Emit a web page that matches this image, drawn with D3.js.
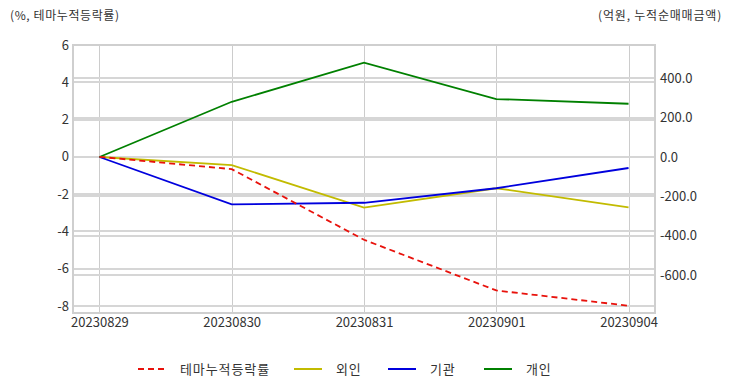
<!DOCTYPE html>
<html><head><meta charset="utf-8">
<script src="https://cdn.jsdelivr.net/npm/d3@7"></script>
<style>
body{margin:0;background:#fff;}
text{font-family:"Noto Sans CJK KR","Noto Sans",sans-serif;}
</style></head>
<body><svg id="c" width="732" height="392"></svg>
<script>
const dates = ["20230829","20230830","20230831","20230901","20230904"];
const themeRate = [0, -0.66, -4.45, -7.17, -7.99];
const foreign = [0, -41, -258, -159, -256];
const inst = [0, -241, -233, -159, -56];
const indiv = [0, 281, 480, 295, 271];
const leftTicks = [6,4,2,0,-2,-4,-6,-8];
const rightTicks = [400,200,0,-200,-400,-600];
const seriesNames = ["테마누적등락률","외인","기관","개인"];
const colors = ["#e8120c","#c2bb00","#0000dd","#008000"];

const svg = d3.select("#c");
const L=73, R=655, T=45, B=313;
const x = d3.scalePoint().domain(dates).range([L,R]).padding(0.2);
const yL = d3.scaleLinear().domain([-8.38,6]).range([B,T]);
const yR = d3.scaleLinear().domain([-794,570]).range([B,T]);

const grid = svg.append("g");
dates.forEach(d=>grid.append("rect").attr("x",Math.round(x(d))).attr("y",T).attr("width",1).attr("height",B-T).attr("fill","#cccccc"));
const hLines = leftTicks.map(v=>yL(v)).concat(rightTicks.map(v=>yR(v)));
grid.selectAll("rect.h").data(hLines).join("rect").attr("class","h")
  .attr("x",L).attr("y",d=>Math.round(d)-1).attr("width",R-L).attr("height",2).attr("fill","#d6d6d6");
svg.append("rect").attr("x",L).attr("y",T).attr("width",R-L).attr("height",B-T).attr("fill","none").attr("stroke","#cfcfcf").attr("stroke-width",2);

const axL = d3.axisLeft(yL).tickValues(leftTicks).tickSize(0).tickPadding(4).tickFormat(d3.format("d"));
const gL = svg.append("g").attr("transform",`translate(${L},0)`).call(axL);
const axR = d3.axisRight(yR).tickValues(rightTicks).tickSize(0).tickPadding(5).tickFormat(d3.format(".1f"));
const gR = svg.append("g").attr("transform",`translate(${R},0)`).call(axR);
const axB = d3.axisBottom(x).tickSize(0).tickPadding(5);
const gB = svg.append("g").attr("transform",`translate(0,${B})`).call(axB);
[gL,gR,gB].forEach(g=>{g.select(".domain").remove();g.selectAll("text").attr("font-size",13).attr("fill","#333").style("font-family",'"Noto Sans CJK KR","Noto Sans",sans-serif');});
gR.selectAll("text").text(d=>d3.format(".1f")(d).replace("−","-"));
gL.selectAll("text").text(d=>String(d));

svg.append("text").attr("x",10).attr("y",20).attr("font-size",12).attr("letter-spacing",0.6).attr("fill","#333").text("(%, 테마누적등락률)");
svg.append("text").attr("x",722).attr("y",20).attr("text-anchor","end").attr("font-size",12).attr("letter-spacing",0.8).attr("fill","#333").text("(억원, 누적순매매금액)");

const lineL = d3.line().x((d,i)=>x(dates[i])).y(d=>yL(d));
const lineR = d3.line().x((d,i)=>x(dates[i])).y(d=>yR(d));
svg.append("path").attr("d",lineR(foreign)).attr("fill","none").attr("stroke",colors[1]).attr("stroke-width",1.8);
svg.append("path").attr("d",lineR(inst)).attr("fill","none").attr("stroke",colors[2]).attr("stroke-width",1.8);
svg.append("path").attr("d",lineR(indiv)).attr("fill","none").attr("stroke",colors[3]).attr("stroke-width",1.8);
svg.append("path").attr("d",lineL(themeRate)).attr("fill","none").attr("stroke",colors[0]).attr("stroke-width",1.8).attr("stroke-dasharray","6,4");

const legX = [138,294,388,484];
const lg = svg.append("g");
seriesNames.forEach((n,i)=>{
  lg.append("line").attr("x1",legX[i]).attr("x2",legX[i]+28).attr("y1",369).attr("y2",369).attr("stroke",colors[i]).attr("stroke-width",2).attr("stroke-dasharray",i===0?"6,4":null);
  lg.append("text").attr("x",legX[i]+42).attr("y",374).attr("font-size",13).attr("letter-spacing",0.9).attr("fill","#333").text(n);
});
</script></body></html>
